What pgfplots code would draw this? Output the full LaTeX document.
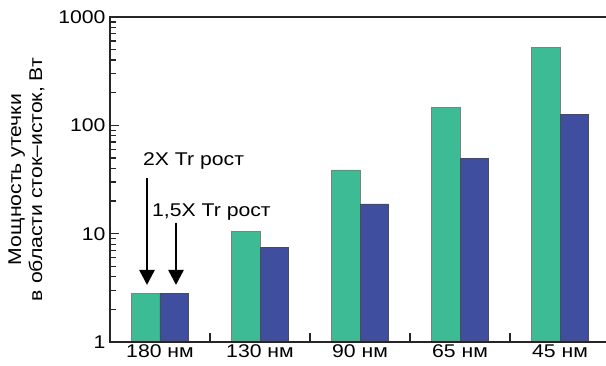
\documentclass[border=0pt]{standalone}
\usepackage{fontspec}
\setmainfont{Liberation Sans}[FakeStretch=1.15]
\usepackage{pgfplots}
\pgfplotsset{compat=1.18}
\usetikzlibrary{arrows.meta}
\definecolor{cgreen}{HTML}{3DBB94}
\definecolor{cblue}{HTML}{3F4E9E}
\begin{document}
\begin{tikzpicture}[font=\fontsize{18.5}{21}\selectfont]
\begin{axis}[
  scale only axis, width=496bp, height=325bp,
  xmin=-0.5, xmax=4.46, ymin=1, ymax=1000, ymode=log,
  log origin=infty,
  axis line style={draw=none},
  xtick pos=left, ytick pos=left,
  xtick align=inside, ytick align=inside,
  xtick={0.5,1.5,2.5,3.5},
  xticklabels={},
  extra x ticks={0,1,2,3,4},
  extra x tick labels={180 нм,130 нм,90 нм,65 нм,45 нм},
  extra x tick style={major tick length=0pt, xticklabel style={yshift=1bp}},
  ytick={1,10,100,1000},
  yticklabels={1,10,100,1000},
  minor ytick={},
  x tick style={black!85, line width=1.2bp},
  y tick style={draw=none},
  major tick length=9bp,
  yticklabel style={xshift=-1bp},
  ylabel={Мощность утечки\\в области сток–исток, Вт},
  every axis y label/.style={at={(axis description cs:-0.125,0.5)}, rotate=90, anchor=south, align=center},
  clip=false,
]
\addplot[ybar, bar width=0.285, bar shift=-0.1425, fill=cgreen, draw=black!50, line width=0.9bp] coordinates {(0,2.78) (1,10.4) (2,38.7) (3,145) (4,525)};
\addplot[ybar, bar width=0.285, bar shift=0.1425, fill=cblue, draw=black!70, line width=0.9bp] coordinates {(0,2.78) (1,7.4) (2,18.8) (3,49) (4,127)};
\coordinate (bl) at (rel axis cs:0,0);
\coordinate (tr) at (rel axis cs:1,1);
\draw[black!85, line width=1.3bp]
  (rel axis cs:0,0.33333) -- (rel axis cs:0.0185,0.33333)
  (rel axis cs:0,0.66667) -- (rel axis cs:0.0185,0.66667)
  (rel axis cs:0,0.10034) -- (rel axis cs:0.0125,0.10034)
  (rel axis cs:0,0.15904) -- (rel axis cs:0.0125,0.15904)
  (rel axis cs:0,0.20069) -- (rel axis cs:0.0125,0.20069)
  (rel axis cs:0,0.23299) -- (rel axis cs:0.0125,0.23299)
  (rel axis cs:0,0.25938) -- (rel axis cs:0.0125,0.25938)
  (rel axis cs:0,0.28170) -- (rel axis cs:0.0125,0.28170)
  (rel axis cs:0,0.30103) -- (rel axis cs:0.0125,0.30103)
  (rel axis cs:0,0.31808) -- (rel axis cs:0.0125,0.31808)
  (rel axis cs:0,0.43367) -- (rel axis cs:0.0125,0.43367)
  (rel axis cs:0,0.49237) -- (rel axis cs:0.0125,0.49237)
  (rel axis cs:0,0.53402) -- (rel axis cs:0.0125,0.53402)
  (rel axis cs:0,0.56632) -- (rel axis cs:0.0125,0.56632)
  (rel axis cs:0,0.59272) -- (rel axis cs:0.0125,0.59272)
  (rel axis cs:0,0.61503) -- (rel axis cs:0.0125,0.61503)
  (rel axis cs:0,0.63436) -- (rel axis cs:0.0125,0.63436)
  (rel axis cs:0,0.65141) -- (rel axis cs:0.0125,0.65141)
  (rel axis cs:0,0.76701) -- (rel axis cs:0.0125,0.76701)
  (rel axis cs:0,0.82571) -- (rel axis cs:0.0125,0.82571)
  (rel axis cs:0,0.86736) -- (rel axis cs:0.0125,0.86736)
  (rel axis cs:0,0.89966) -- (rel axis cs:0.0125,0.89966)
  (rel axis cs:0,0.92605) -- (rel axis cs:0.0125,0.92605)
  (rel axis cs:0,0.94837) -- (rel axis cs:0.0125,0.94837)
  (rel axis cs:0,0.96770) -- (rel axis cs:0.0125,0.96770)
  (rel axis cs:0,0.98475) -- (rel axis cs:0.0125,0.98475);
\draw[line width=1.6bp, black!85] (rel axis cs:1,1) -- (rel axis cs:0,1) -- (rel axis cs:0,0) -- (rel axis cs:1,0);
\node[anchor=base west, inner sep=0pt] at (axis cs:-0.17,42.2) {2X Tr рост};
\node[anchor=base west, inner sep=0pt] at (axis cs:-0.08,14.4) {1,5X Tr рост};
\draw[line width=2.5bp, -{Triangle[width=15bp,length=15bp]}] (axis cs:-0.13,32.7) -- (axis cs:-0.13,3.36);
\draw[line width=2.5bp, -{Triangle[width=15bp,length=15bp]}] (axis cs:0.16,12.6) -- (axis cs:0.16,3.36);
\end{axis}
\pgfresetboundingbox
\path[use as bounding box] ([shift={(-110bp,-24bp)}]bl) rectangle ([shift={(0bp,17bp)}]tr);
\end{tikzpicture}
\end{document}
